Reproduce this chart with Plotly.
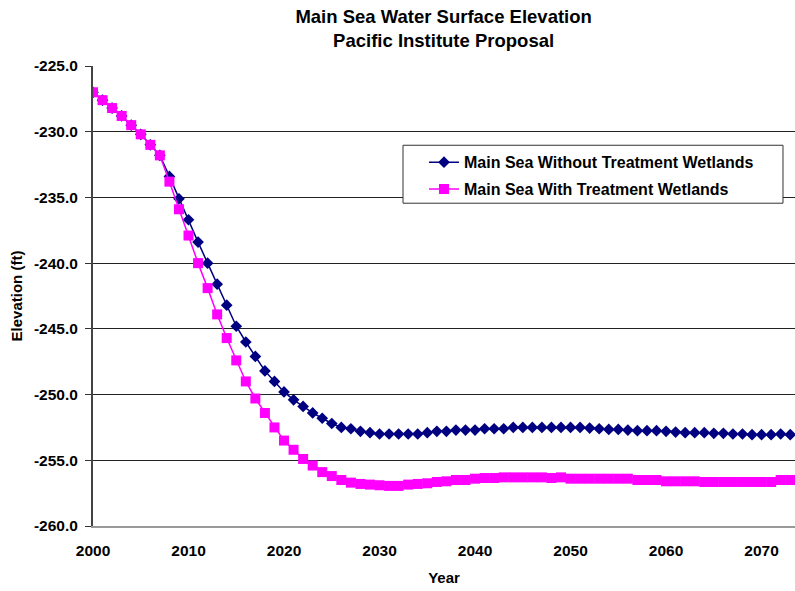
import plotly.graph_objects as go

years = list(range(2000, 2075))

without_wetlands = [
    -227.0, -227.6, -228.2, -228.8, -229.5, -230.2, -231.0, -231.8, -233.4, -235.1,
    -236.7, -238.4, -240.0, -241.6, -243.2, -244.8, -246.0, -247.1, -248.2, -249.0,
    -249.8, -250.4, -250.9, -251.4, -251.8, -252.2, -252.5, -252.6, -252.8, -252.9,
    -253.0, -253.0, -253.0, -253.0, -253.0, -252.9, -252.8, -252.8, -252.7, -252.7,
    -252.7, -252.6, -252.6, -252.6, -252.5, -252.5, -252.5, -252.5, -252.5, -252.5,
    -252.5, -252.5, -252.55, -252.6, -252.65, -252.65, -252.7, -252.75, -252.75, -252.75,
    -252.8, -252.85, -252.9, -252.9, -252.9, -252.95, -252.95, -253.0, -253.0, -253.05,
    -253.05, -253.05, -253.0, -253.05, -253.05,
]

with_wetlands = [
    -227.0, -227.6, -228.2, -228.8, -229.5, -230.2, -231.0, -231.8, -233.8, -235.9,
    -237.9, -240.0, -241.9, -243.9, -245.7, -247.4, -249.0, -250.3, -251.4, -252.5,
    -253.5, -254.2, -254.9, -255.4, -255.9, -256.2, -256.5, -256.7, -256.8, -256.85,
    -256.9, -256.95, -256.95, -256.85, -256.8, -256.75, -256.65, -256.6, -256.5, -256.5,
    -256.4, -256.35, -256.35, -256.3, -256.3, -256.3, -256.3, -256.3, -256.35, -256.3,
    -256.4, -256.4, -256.4, -256.4, -256.4, -256.4, -256.4, -256.5, -256.5, -256.5,
    -256.6, -256.6, -256.6, -256.6, -256.65, -256.65, -256.65, -256.65, -256.65, -256.65,
    -256.65, -256.65, -256.5, -256.5, -256.5,
]

y_ticks = [-260, -255, -250, -245, -240, -235, -230, -225]
y_tick_text = ["-260.0", "-255.0", "-250.0", "-245.0", "-240.0", "-235.0", "-230.0", "-225.0"]
x_ticks = [2000, 2010, 2020, 2030, 2040, 2050, 2060, 2070]

FONT = "Liberation Sans, Arial, sans-serif"

fig = go.Figure()
fig.add_trace(go.Scatter(
    x=years, y=without_wetlands, mode="lines+markers",
    name="Main Sea Without Treatment Wetlands", legendgroup="a",
    line=dict(color="#000080", width=1.5),
    marker=dict(symbol="diamond", size=9, color="#000080"),
))
fig.add_trace(go.Scatter(
    x=years, y=with_wetlands, mode="lines+markers",
    name="Main Sea With Treatment Wetlands", legendgroup="b",
    line=dict(color="#FF00FF", width=1.5),
    marker=dict(symbol="square", size=10, color="#FF00FF"),
))

# legend frame drawn as a box so it can be wider than the legend text
fig.add_shape(
    type="rect", xref="paper", yref="paper",
    x0=0.4416, x1=0.9829, y0=0.7017, y1=0.8277,
    line=dict(color="#333333", width=1), fillcolor="white", layer="above",
)

fig.update_layout(
    width=795, height=591,
    margin=dict(l=93, r=0, t=66, b=65),
    paper_bgcolor="white", plot_bgcolor="white",
    font=dict(family=FONT, size=15.5, color="black", weight="bold"),
    title=dict(
        text="Main Sea Water Surface Elevation<br>Pacific Institute Proposal",
        x=0.558, xanchor="center", y=0.961, yanchor="top",
        font=dict(family=FONT, size=18.5, color="black", weight="bold"),
    ),
    legend=dict(
        x=0.4715, y=0.8277, xanchor="left", yanchor="top",
        bgcolor="rgba(0,0,0,0)", borderwidth=0,
        traceorder="grouped", tracegroupgap=3,
        font=dict(family=FONT, size=16, color="black", weight="bold"),
    ),
    showlegend=True,
)

fig.update_xaxes(
    range=[2000, 2073.5], tickvals=x_ticks,
    showgrid=False, zeroline=False,
    showline=True, linecolor="#999999", linewidth=2,
    ticks="", ticklabelstandoff=9,
    title=dict(text="Year", standoff=15, font=dict(family=FONT, size=15, weight="bold")),
)
fig.update_yaxes(
    range=[-260, -225], tickvals=y_ticks, ticktext=y_tick_text,
    showgrid=True, gridcolor="#222222", gridwidth=1, zeroline=False,
    showline=True, linecolor="#444444", linewidth=2,
    ticks="outside", ticklen=6, tickcolor="#333333", ticklabelstandoff=4,
    title=dict(text="Elevation (ft)", standoff=8, font=dict(family=FONT, size=15, weight="bold")),
)

# the page has a default 8px body margin; drop it so the figure fills the window
fig.write_html(
    "out.html",
    config={"displayModeBar": False},
    post_script="document.body.style.margin='0';",
)
